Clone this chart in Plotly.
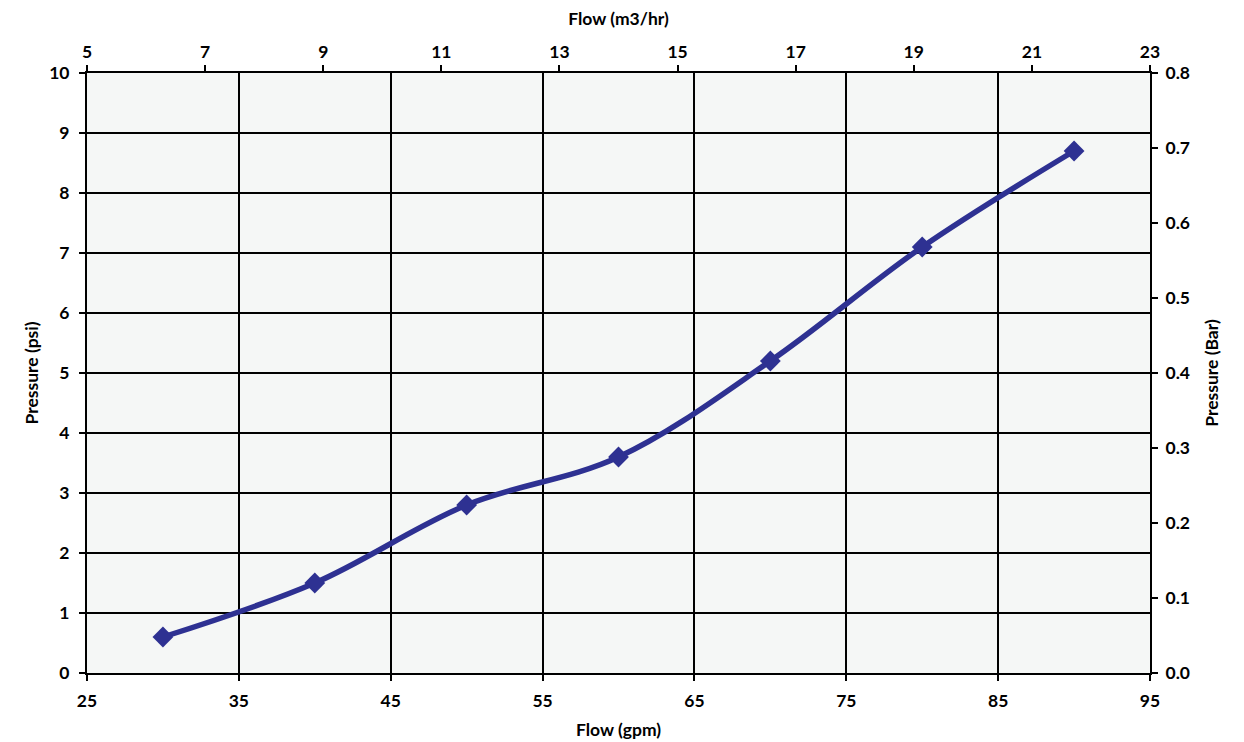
import plotly.graph_objects as go

flow_gpm = [30, 40, 50, 60, 70, 80, 90]
pressure_psi = [0.6, 1.5, 2.8, 3.6, 5.2, 7.1, 8.7]

x_ticks = [25, 35, 45, 55, 65, 75, 85, 95]
y_ticks = [0, 1, 2, 3, 4, 5, 6, 7, 8, 9, 10]
top_ticks = [5, 7, 9, 11, 13, 15, 17, 19, 21, 23]
right_ticks = [0.0, 0.1, 0.2, 0.3, 0.4, 0.5, 0.6, 0.7, 0.8]

LINE = "#2E3192"
FONT = dict(family="Lato, Open Sans, sans-serif", size=17.5, color="#000000", weight=700)

fig = go.Figure()
fig.add_trace(go.Scatter(
    x=flow_gpm, y=pressure_psi, mode="lines+markers",
    line=dict(color=LINE, width=5.5, shape="spline", smoothing=1.0),
    marker=dict(symbol="diamond", size=16, color=LINE),
    showlegend=False, xaxis="x", yaxis="y",
))
# invisible trace to activate secondary axes
fig.add_trace(go.Scatter(x=[top_ticks[0]], y=[right_ticks[0]], mode="markers",
                         marker=dict(opacity=0), showlegend=False, hoverinfo="skip",
                         xaxis="x2", yaxis="y2"))

axis_common = dict(
    showline=True, linecolor="#000000", linewidth=2,
    ticks="outside", tickcolor="#000000", tickwidth=2, ticklen=6,
    tickfont=FONT, zeroline=False, automargin=False,
)

fig.update_layout(
    width=1244, height=742,
    margin=dict(l=79, r=102, t=65, b=77),
    paper_bgcolor="#FFFFFF", plot_bgcolor="#F5F7F6",
    xaxis=dict(range=[x_ticks[0], x_ticks[-1]], tickvals=x_ticks, showgrid=True,
               gridcolor="#000000", gridwidth=2, ticklabelstandoff=5,
               title=dict(text="Flow (gpm)", font=FONT, standoff=14), **axis_common),
    yaxis=dict(range=[y_ticks[0], y_ticks[-1]], tickvals=y_ticks, showgrid=True,
               gridcolor="#000000", gridwidth=2, ticklabelstandoff=6,
               title=dict(text="Pressure (psi)", font=FONT, standoff=6), **axis_common),
    xaxis2=dict(range=[top_ticks[0], top_ticks[-1]], tickvals=top_ticks, overlaying="x",
                side="top", showgrid=False, ticklabelstandoff=0,
                title=dict(text="Flow (m3/hr)", font=FONT, standoff=16), **axis_common),
    yaxis2=dict(range=[right_ticks[0], right_ticks[-1]], tickvals=right_ticks,
                tickformat=".1f", overlaying="y", side="right", showgrid=False,
                ticklabelstandoff=4,
                title=dict(text="Pressure (Bar)", font=FONT, standoff=17), **axis_common),
)

fig.write_html("out.html")
